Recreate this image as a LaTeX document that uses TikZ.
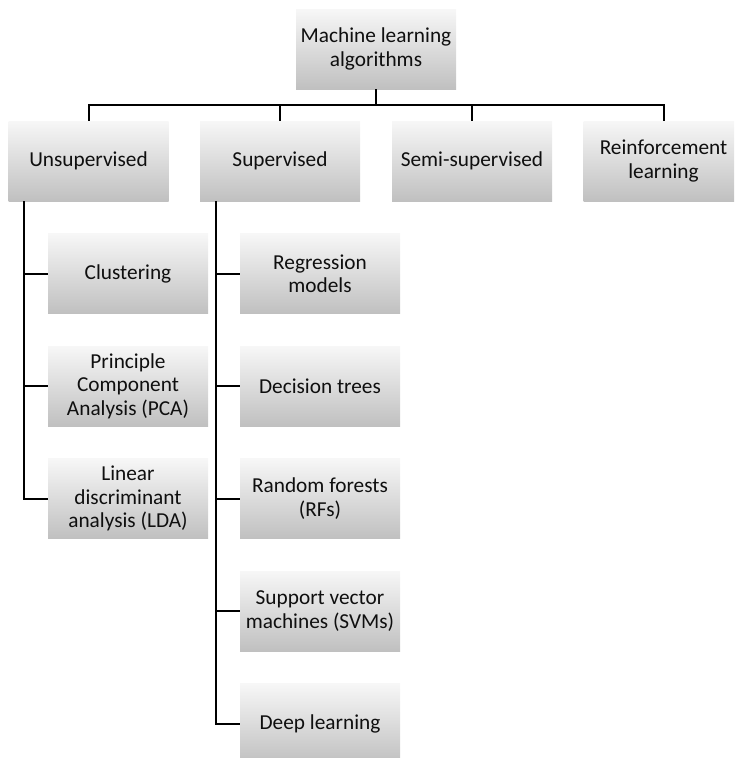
\documentclass[tikz,border=0pt]{standalone}
\usepackage{fontspec}
\setmainfont{Carlito}
\definecolor{boxtop}{RGB}{247,247,247}
\definecolor{boxbot}{RGB}{192,192,192}
\definecolor{txt}{RGB}{15,15,15}
\begin{document}
\begin{tikzpicture}[x=1pt,y=-1pt,
  box/.style={rectangle, inner sep=0pt, minimum width=160pt, minimum height=80pt,
    top color=boxtop, bottom color=boxbot, align=center, text=txt,
    font=\fontsize{21.3}{23.5}\selectfont},
  conn/.style={line width=2pt, draw=black}]
\useasboundingbox (0,0) rectangle (734,758);
\clip (0,0) rectangle (734,758);
% top
\node[box] (top) at (376,49) {Machine learning\\algorithms};
% level 2
\node[box] (unsup) at (88.5,161) {Unsupervised};
\node[box] (sup) at (280,161) {Supervised};
\node[box] (semi) at (472,161) {Semi-supervised};
\node[box] (reinf) at (663.5,161) {Reinforcement\\learning};
% unsupervised children
\node[box] (clust) at (128,273.5) {Clustering};
\node[box] (pca) at (128,386) {Principle\\Component\\Analysis (PCA)};
\node[box] (lda) at (128,498.5) {Linear\\discriminant\\analysis (LDA)};
% supervised children
\node[box] (reg) at (320,273.5) {Regression\\models};
\node[box] (dt) at (320,386) {Decision trees};
\node[box] (rf) at (320,498.5) {Random forests\\(RFs)};
\node[box] (svm) at (320,611) {Support vector\\machines (SVMs)};
\node[box] (dl) at (320,723.5) {Deep learning};
% bus
\coordinate (bus) at (0,105);
\draw[conn] (top.south) -- (top.south |- bus);
\draw[conn] (unsup.north) -- (unsup.north |- bus) -- (reinf.north |- bus) -- (reinf.north);
\draw[conn] (sup.north) -- (sup.north |- bus);
\draw[conn] (semi.north) -- (semi.north |- bus);
% unsupervised tree
\coordinate (uL) at ([xshift=16pt]unsup.south west);
\draw[conn] (uL) |- (lda.west);
\draw[conn] (clust.west) -- (clust.west -| uL);
\draw[conn] (pca.west) -- (pca.west -| uL);
% supervised tree
\coordinate (sL) at ([xshift=16pt]sup.south west);
\draw[conn] (sL) |- (dl.west);
\draw[conn] (reg.west) -- (reg.west -| sL);
\draw[conn] (dt.west) -- (dt.west -| sL);
\draw[conn] (rf.west) -- (rf.west -| sL);
\draw[conn] (svm.west) -- (svm.west -| sL);
\end{tikzpicture}
\end{document}
